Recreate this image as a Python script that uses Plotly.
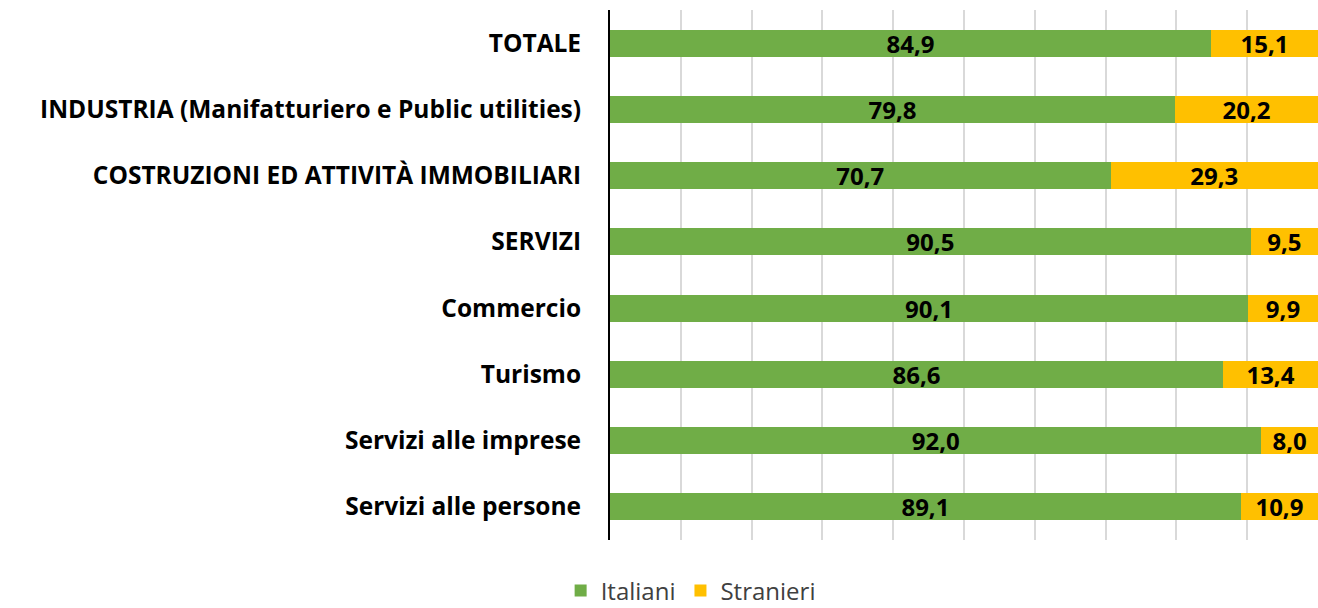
import plotly.graph_objects as go

categories = [
    "TOTALE",
    "INDUSTRIA (Manifatturiero e Public utilities)",
    "COSTRUZIONI ED ATTIVITÀ IMMOBILIARI",
    "SERVIZI",
    "Commercio",
    "Turismo",
    "Servizi alle imprese",
    "Servizi alle persone",
]
italiani = [84.9, 79.8, 70.7, 90.5, 90.1, 86.6, 92.0, 89.1]
stranieri = [15.1, 20.2, 29.3, 9.5, 9.9, 13.4, 8.0, 10.9]

FONT = "Open Sans, sans-serif"

def fmt(v):
    return f"{v:.1f}".replace(".", ",")

fig = go.Figure()
for name, vals, color in [("Italiani", italiani, "#70AD47"), ("Stranieri", stranieri, "#FFC000")]:
    fig.add_trace(go.Bar(
        y=categories, x=vals, name=name, orientation="h",
        marker=dict(color=color, line=dict(width=0)),
        text=[fmt(v) for v in vals],
        textposition="inside", insidetextanchor="middle",
        textangle=0, constraintext="none",
        textfont=dict(family=FONT, size=24, color="black", weight="bold"),
        cliponaxis=False,
        width=0.41,
    ))

fig.update_layout(
    barmode="stack",
    width=1318, height=608,
    margin=dict(l=610, r=0, t=10, b=68, autoexpand=False),
    paper_bgcolor="white", plot_bgcolor="white",
    font=dict(family=FONT, color="black"),
    uniformtext=dict(mode=False),
    xaxis=dict(range=[0, 100], dtick=10, showgrid=True, gridcolor="#D9D9D9", gridwidth=2,
               showticklabels=False, zeroline=False, showline=False, fixedrange=True,
               automargin=False),
    yaxis=dict(categoryorder="array", categoryarray=categories, autorange="reversed",
               showline=True, linecolor="black", linewidth=2, ticks="",
               ticklabelstandoff=22, automargin=False,
               tickfont=dict(family=FONT, size=24.5, color="black", weight="bold")),
    legend=dict(orientation="h", xref="container", yref="container",
                x=0.524, xanchor="center", y=0.028, yanchor="middle",
                traceorder="normal",
                font=dict(family=FONT, size=24, color="#404040"),
                itemwidth=30, tracegroupgap=0),
    showlegend=True,
)

fig.write_html("out.html", config={"displayModeBar": False},
               post_script="document.body.style.margin='0';document.body.style.overflow='hidden';")
